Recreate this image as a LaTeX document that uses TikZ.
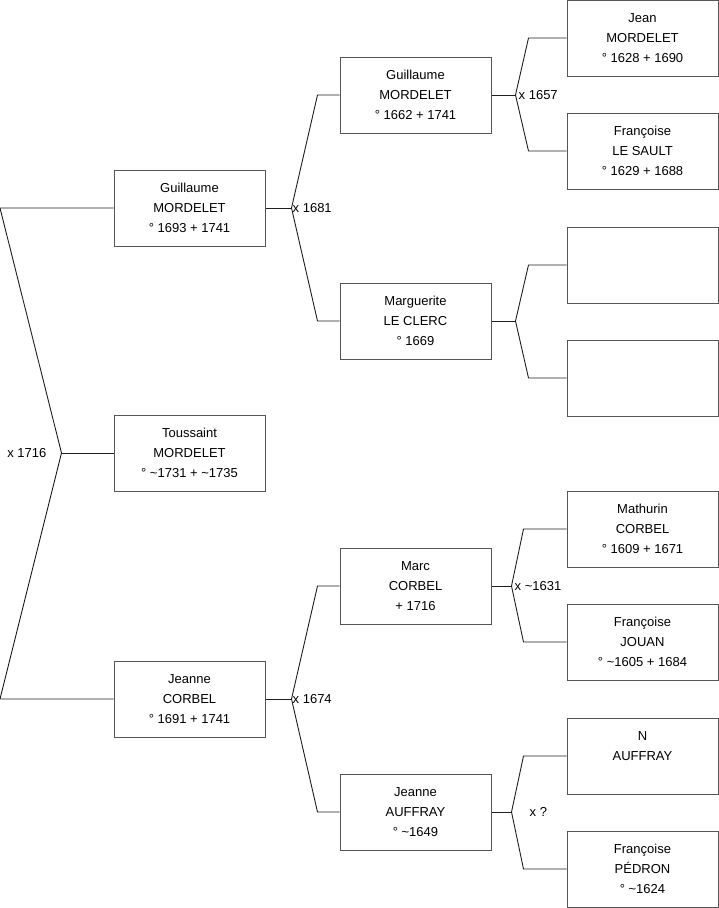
\documentclass[tikz,border=0pt]{standalone}
\usepackage{fontspec}
\setmainfont{Liberation Sans}
\usetikzlibrary{positioning, calc}
\definecolor{boxline}{RGB}{85,85,85}
\definecolor{linkline}{RGB}{30,30,30}

\begin{document}
\begin{tikzpicture}[
    x=1pt, y=-1pt,
    person/.style={rectangle, draw=boxline, line width=1pt, minimum width=151pt, minimum height=76pt,
                   inner sep=0pt, align=center, font=\fontsize{13}{20}\selectfont},
    link/.style={draw=linkline, line width=0.9pt},
    union/.style={inner sep=1pt, font=\fontsize{13}{16}\selectfont}
]
    \useasboundingbox (0,0) rectangle (719,908);

    % generation 1
    \node[person] (gm) at (189.5,208) {Guillaume\\MORDELET\\° 1693 + 1741};
    \node[person] (tm) at (189.5,453) {Toussaint\\MORDELET\\° \textasciitilde1731 + \textasciitilde1735};
    \node[person] (jc) at (189.5,699) {Jeanne\\CORBEL\\° 1691 + 1741};

    % generation 2
    \node[person] (gg) at (415.5,95) {Guillaume\\MORDELET\\° 1662 + 1741};
    \node[person] (ml) at (415.5,321) {Marguerite\\LE CLERC\\° 1669};
    \node[person] (mc) at (415.5,586) {Marc\\CORBEL\\+ 1716};
    \node[person] (ja) at (415.5,812) {Jeanne\\AUFFRAY\\° \textasciitilde1649};

    % generation 3
    \node[person] (jm) at (642.5,38) {Jean\\MORDELET\\° 1628 + 1690};
    \node[person] (fs) at (642.5,151) {Françoise\\LE SAULT\\° 1629 + 1688};
    \node[person] (u1) at (642.5,265) {};
    \node[person] (u2) at (642.5,378) {};
    \node[person] (mb) at (642.5,529) {Mathurin\\CORBEL\\° 1609 + 1671};
    \node[person] (fj) at (642.5,642) {Françoise\\JOUAN\\° \textasciitilde1605 + 1684};
    \node[person] (na) at (642.5,756) {N\\AUFFRAY\\\phantom{0}};
    \node[person] (fp) at (642.5,869) {Françoise\\PÉDRON\\° \textasciitilde1624};

    % forks
    \draw[link] (tm.west) -- ++(-52,0) coordinate (f0);
    \draw[link] (gm.west) -- ++(-113.5,0) -- (f0) -- ($(jc.west)+(-113.5,0)$) -- (jc.west);

    \draw[link] (gm.east) -- ++(26,0) coordinate (f1);
    \draw[link] (gg.west) -- ++(-22,0) -- (f1) -- ($(ml.west)+(-22,0)$) -- (ml.west);

    \draw[link] (jc.east) -- ++(26,0) coordinate (f2);
    \draw[link] (mc.west) -- ++(-22,0) -- (f2) -- ($(ja.west)+(-22,0)$) -- (ja.west);

    \draw[link] (gg.east) -- ++(24,0) coordinate (f3);
    \draw[link] (jm.west) -- ++(-38,0) -- (f3) -- ($(fs.west)+(-38,0)$) -- (fs.west);

    \draw[link] (ml.east) -- ++(24,0) coordinate (f4);
    \draw[link] (u1.west) -- ++(-38,0) -- (f4) -- ($(u2.west)+(-38,0)$) -- (u2.west);

    \draw[link] (mc.east) -- ++(20,0) coordinate (f5);
    \draw[link] (mb.west) -- ++(-43,0) -- (f5) -- ($(fj.west)+(-43,0)$) -- (fj.west);

    \draw[link] (ja.east) -- ++(20,0) coordinate (f6);
    \draw[link] (na.west) -- ++(-43,0) -- (f6) -- ($(fp.west)+(-43,0)$) -- (fp.west);

    % marriages
    \node[union, left=14pt of f0] (m0) {x 1716};
    \node[union, right=0pt of f1] (m1) {x 1681};
    \node[union, right=0pt of f2] (m2) {x 1674};
    \node[union, right=2pt of f3] (m3) {x 1657};
    \node[union, right=2pt of f5] (m5) {x \textasciitilde1631};
    \node[union, right=17pt of f6] (m6) {x ?};
\end{tikzpicture}
\end{document}
